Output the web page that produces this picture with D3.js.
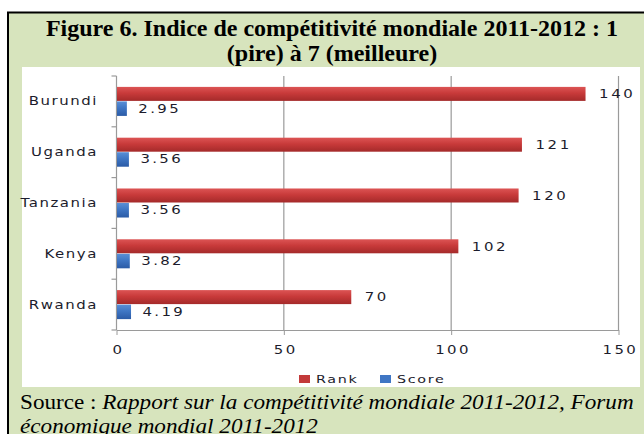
<!DOCTYPE html>
<html><head><meta charset="utf-8">
<script src="https://cdn.jsdelivr.net/npm/d3@7"></script>
<style>
html,body{margin:0;padding:0;background:#fff;}
svg{display:block;}
</style></head>
<body>
<svg id="c" width="644" height="434"></svg>
<script>
const categories = ["Burundi","Uganda","Tanzania","Kenya","Rwanda"];
const series = ["Rank","Score"];
const rankValues = [140,121,120,102,70];
const scoreValues = [2.95,3.56,3.56,3.82,4.19];
const xTicks = [0,50,100,150];
const titleLines = ["Figure 6. Indice de compétitivité mondiale 2011-2012 : 1","(pire) à 7 (meilleure)"];

const svg = d3.select("#c");
const defs = svg.append("defs");
const gr = defs.append("linearGradient").attr("id","gRed").attr("x1",0).attr("y1",0).attr("x2",0).attr("y2",1);
gr.append("stop").attr("offset","0%").attr("stop-color","#dc5454");
gr.append("stop").attr("offset","45%").attr("stop-color","#c83a3a");
gr.append("stop").attr("offset","100%").attr("stop-color","#a42a2a");
const gb = defs.append("linearGradient").attr("id","gBlue").attr("x1",0).attr("y1",0).attr("x2",0).attr("y2",1);
gb.append("stop").attr("offset","0%").attr("stop-color","#5a8fd6");
gb.append("stop").attr("offset","45%").attr("stop-color","#3f76c4");
gb.append("stop").attr("offset","100%").attr("stop-color","#2b5ba6");

const SX = 1.3; // horizontal stretch of the chart labels

// frame
svg.append("rect").attr("x",8).attr("y",12.5).attr("width",660).attr("height",440)
  .attr("fill","#d7e4bd").attr("stroke","#000").attr("stroke-width",2);
svg.append("rect").attr("x",22).attr("y",67).attr("width",618).attr("height",320).attr("fill","#fff");

// title
svg.append("g").selectAll("text").data(titleLines).join("text")
  .attr("x",332).attr("y",(d,i)=>36+i*24.5)
  .attr("text-anchor","middle")
  .attr("font-family","Liberation Serif, Times New Roman, serif")
  .attr("font-weight","bold").attr("font-size",24)
  .attr("fill","#000").text(d=>d);

const x = d3.scaleLinear().domain([0,150]).range([116.5,618.5]);
const y = d3.scaleBand().domain(categories).range([76,330]);
const ys = d3.scaleBand().domain(series).range([0,y.bandwidth()]).paddingInner(0).paddingOuter(0.75);

const lblFont = "DejaVu Sans, Verdana, sans-serif";
const txtCol = "#1c1c2c";

// gridlines
svg.append("g").selectAll("line").data(xTicks.filter(t=>t>0)).join("line")
  .attr("x1",d=>x(d)).attr("x2",d=>x(d)).attr("y1",76).attr("y2",330)
  .attr("stroke","#9a9a9a").attr("stroke-width",1.2);

// x axis
const xa = svg.append("g").attr("transform","translate(0,330)")
  .call(d3.axisBottom(x).tickValues(xTicks).tickSize(5).tickSizeOuter(0));
xa.select(".domain").attr("stroke","#9a9a9a").attr("stroke-width",1.2);
xa.selectAll(".tick line").attr("stroke","#9a9a9a");
xa.selectAll(".tick text").attr("font-family",lblFont).attr("font-size",11.5)
  .attr("letter-spacing","1.8px").attr("fill",txtCol).attr("y",24).attr("dy",0).attr("x",1)
  .attr("transform",`scale(${SX},1)`);

// y axis
svg.append("line").attr("x1",x(0)).attr("x2",x(0)).attr("y1",76).attr("y2",330)
  .attr("stroke","#9a9a9a").attr("stroke-width",1.2);
const bounds = categories.map(c=>y(c)).concat([y.range()[1]]);
svg.append("g").selectAll("line").data(bounds).join("line")
  .attr("x1",x(0)-5).attr("x2",x(0)).attr("y1",d=>d).attr("y2",d=>d)
  .attr("stroke","#9a9a9a").attr("stroke-width",1.2);
svg.append("g").selectAll("text").data(categories).join("text")
  .attr("transform",d=>`translate(98,${y(d)+y.bandwidth()/2}) scale(${SX},1)`)
  .attr("dy","0.35em").attr("text-anchor","end")
  .attr("font-family",lblFont).attr("font-size",11.5).attr("letter-spacing","1.2px")
  .attr("fill",txtCol).text(d=>d);

// bars
const rows = categories.map((c,i)=>({c, rank:rankValues[i], score:scoreValues[i]}));
const g = svg.append("g");
g.selectAll("rect.r").data(rows).join("rect").attr("class","r")
  .attr("x",x(0)+0.5).attr("y",d=>y(d.c)+ys("Rank"))
  .attr("width",d=>x(d.rank)-x(0)).attr("height",ys.bandwidth()-0.5)
  .attr("fill","url(#gRed)");
g.selectAll("rect.b").data(rows).join("rect").attr("class","b")
  .attr("x",x(0)+0.5).attr("y",d=>y(d.c)+ys("Score"))
  .attr("width",d=>x(d.score)-x(0)).attr("height",ys.bandwidth())
  .attr("fill","url(#gBlue)");
g.selectAll("text.r").data(rows).join("text").attr("class","r")
  .attr("transform",d=>`translate(${x(d.rank)+14},${y(d.c)+ys("Rank")+ys.bandwidth()/2}) scale(${SX},1)`)
  .attr("dy","0.35em").attr("font-family",lblFont).attr("font-size",11.5)
  .attr("letter-spacing","2px").attr("fill",txtCol).text(d=>d.rank);
g.selectAll("text.b").data(rows).join("text").attr("class","b")
  .attr("transform",d=>`translate(${x(d.score)+12},${y(d.c)+ys("Score")+ys.bandwidth()/2}) scale(${SX},1)`)
  .attr("dy","0.35em").attr("font-family",lblFont).attr("font-size",11.5)
  .attr("letter-spacing","1.8px").attr("fill",txtCol).text(d=>d3.format(".2f")(d.score));

// legend
const legX = [299,380];
const leg = svg.append("g").selectAll("g").data(series).join("g")
  .attr("transform",(d,i)=>`translate(${legX[i]},379)`);
leg.append("rect").attr("x",0).attr("y",-4).attr("width",11).attr("height",8)
  .attr("fill",(d,i)=>i===0?"#c33a3a":"#3f76c4");
leg.append("text").attr("transform",`translate(17,0) scale(${SX},1)`).attr("dy","0.35em").attr("font-family",lblFont)
  .attr("font-size",11).attr("letter-spacing","1.3px").attr("fill",txtCol).text(d=>d);

// source
const src = svg.append("text").attr("transform","translate(20,409) scale(1.13,1)")
  .attr("font-family","Liberation Serif, Times New Roman, serif").attr("font-size",20.5).attr("fill","#000");
src.append("tspan").text("Source : ");
src.append("tspan").attr("font-style","italic").text("Rapport sur la compétitivité mondiale 2011-2012, Forum");
svg.append("text").attr("transform","translate(20,433) scale(1.13,1)")
  .attr("font-family","Liberation Serif, Times New Roman, serif").attr("font-size",20.5)
  .attr("font-style","italic").attr("fill","#000").text("économique mondial 2011-2012");
</script>
</body></html>
